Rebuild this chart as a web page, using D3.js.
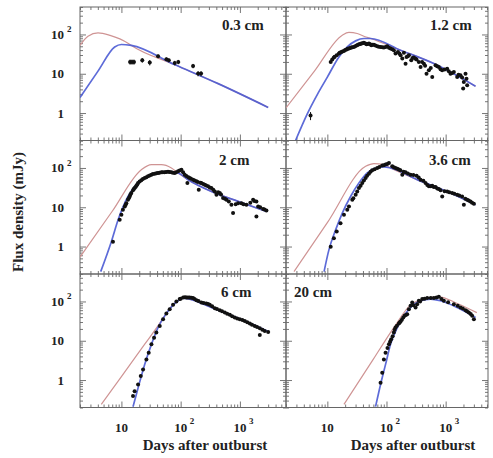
<!DOCTYPE html>
<html><head><meta charset="utf-8">
<script src="https://cdn.jsdelivr.net/npm/d3@7"></script>
<style>body{margin:0;background:#fff}svg{display:block}</style>
</head><body><svg id="c" width="493" height="458"></svg>
<script>
// ---------- data (days after outburst, flux density mJy) ----------
const panelLabels = ["0.3 cm","1.2 cm","2 cm","3.6 cm","6 cm","20 cm"];
const xTickValues = [10,100,1000];
const xTickBase = ["10","10","10"];
const xTickSup = ["","2","3"];
const yTickValues = [100,10,1];
const yTickBase = ["10","10","1"];
const yTickSup = ["2","",""];
const xTitle = "Days after outburst";
const yTitle = "Flux density (mJy)";

// observations [days, mJy, error]
const obs03 = [[14,20,3],[15.1,20,3],[16.3,20,3],[22.5,22.1,3],[30.1,19.3,3],[41.6,27.9,3],[57.4,23.4,2.5],[63.1,22.1,2.5],[79.4,18.8,2.5],[91.2,20,2.5],[162,15.8,2],[197,10.1,1.5],[221,10.1,1.5]];
const obs12 = [[5.2,0.86,0.2],[11.4,20],[12.1,23],[12.9,25.8],[13.3,27],[14.4,29.6],[15.7,32.7],[16.2,34],[17.2,36],[18,37],[19.1,38.2],[20,40],[21.2,41.3],[22,43],[23.2,43.9],[24.3,45],[25.4,46.5],[26.5,47],[28.1,48.3],[29.5,50],[31.2,52.3],[32.5,54],[34.2,56.6],[36,57],[37.4,58.9],[39.5,60],[41.5,61.2],[44,59],[46,56.6],[48,57],[50.5,58.9],[53,56],[55.2,53.3],[58,55],[61.2,54.4],[65,52],[69.8,50.4],[74,49],[79.4,48.3],[85,47],[90.4,46.5],[97,48],[103,50.4],[110,46],[117,43.9],[125,42],[133,39.7],[142,32.7],[156,36],[165,33],[173,29.6],[185,24.3],[197,34],[210,18.1],[218,26.8],[230,28],[239,29.6],[262,22.1],[275,25],[290,25.8],[310,24],[322,23],[352,20],[377,14.9],[400,20],[429,18.1],[450,16],[475,10],[520,12.2],[560,14],[593,8.3],[675,16.4],[720,15.5],[767,14.9],[820,13],[875,12.2],[960,12.8],[1062,13.5],[1130,11.5],[1208,10],[1290,10.5],[1377,11.1],[1567,8.3],[1650,9.5],[1782,9.1],[1900,8],[2028,6.2],[2167,10],[2250,7.5],[2312,5.1],[1977,4.2]];
const obs2 = [[7.2,1.33],[9.35,4.8],[10,6.4],[10.6,8.6],[11.4,10.5],[11.8,11.5],[12.1,12.7],[12.9,15.5],[13.3,17],[13.8,18.8],[14.2,21],[14.7,23],[15.7,26.9],[16.2,29],[16.7,30.8],[17.3,33],[17.9,35.3],[18.5,38],[19.1,41.3],[20.3,45],[21.7,48.4],[23,52],[24.7,55.5],[26.4,58],[28.1,61.2],[30,64],[32.1,67.6],[34,70],[36.5,71.6],[39,73],[41.5,74.5],[44,76],[47.3,77.5],[50,78],[53.8,77.5],[57,79],[61.2,80.5],[65,79],[69.8,77.5],[74,76],[79.4,74.5],[84,78],[90.4,82.2],[96,86],[103,90.6],[110,77.5],[117,67.6],[125,62],[130,41.3],[135,58],[142,55.5],[150,53],[162,50.4],[172,48],[185,45.6],[195,44],[202,27.9],[215,42],[224,41.3],[240,39],[255,37.5],[270,36],[290,34],[310,32],[330,30.8],[355,28],[377,25.3],[402,20.8],[430,24],[457,23],[480,21],[520,17.1],[560,16.5],[593,15.5],[650,14],[719,11.5],[767,7.1],[850,12],[933,12.7],[1062,12.7],[1150,12],[1288,11.5],[1500,13],[1671,15.5],[1750,14.5],[1901,14.1],[2032,10.5],[2200,10],[2466,9],[2600,8.8],[2805,8.3],[1901,5.8]];
const obs36 = [[11.4,0.99],[12.9,1.62],[14.4,2.4],[16.7,3.9],[19.1,6.4],[21.7,8.6],[23.2,10.5],[26.4,15.5],[27.5,17],[30.1,20.8],[32,25],[34.2,30.8],[36.5,35],[38.9,41.3],[41.5,48],[44.4,55.5],[47,63],[50.5,71.6],[53.8,80],[57.4,87.1],[63,93],[69.8,100],[76,106],[84.7,115],[90,118],[96.4,122],[103,126],[110,134],[125,110],[133,104],[142,100],[152,96],[162,90.8],[172,88],[185,67.6],[195,80],[210,77.5],[230,72],[255,67.6],[285,66],[322,63.7],[350,57],[377,50.4],[420,47],[457,41.3],[490,37],[520,34],[560,34],[593,35.3],[630,33],[675,32.7],[720,30],[767,29],[820,27],[875,18.8],[960,25.5],[1062,25.3],[1150,24],[1288,23],[1400,22],[1567,20.8],[1700,20],[1901,18.8],[2032,11.5],[2150,16.5],[2312,15.5],[2450,14.8],[2630,14.1],[2800,13],[3000,12.2]];
const obs6 = [[15.7,0.39],[16.7,0.52],[19.1,0.77],[21.2,1.26],[23.2,1.86],[26.4,3.35],[28.9,4.95],[32.1,8.1],[35.6,12],[38.9,16.1],[44.4,23.8],[50.5,35.3],[57.4,49.3],[65.3,63.7],[74.5,82],[84.7,100],[96.4,115],[100,118],[110,126],[118,128],[125,126],[133,126],[142,126],[152,124],[162,122],[172,116],[185,108],[200,102],[224,94.2],[245,92],[272,88.9],[290,86],[310,82],[340,76],[377,67.5],[410,64],[457,60],[500,56],[556,52.2],[610,49],[675,45.6],[740,42],[818,38.9],[900,37],[995,35.3],[1100,33.5],[1208,32],[1330,29.5],[1469,27.4],[1600,25.6],[1782,23.8],[1950,22.3],[2167,20.8],[2167,14],[2400,19],[2630,17.8],[3000,16.7]];
const obs20 = [[79.4,0.85],[84.7,1.53],[90.4,3.35],[96.4,4.95],[104,6.5],[110,8.1],[115,9.5],[120,10.9],[127,13],[133,16.1],[137,19],[142,21.6],[150,24],[162,27.4],[167,29],[173,30.8],[182,34],[192,38.9],[202,43],[212,45],[224,47.4],[239,63.7],[255,77.4],[272,94.2],[285,80],[310,70.2],[330,85.5],[352,104],[370,100],[402,115],[440,118],[488,122],[560,122],[632,122],[700,127],[767,131.5],[850,115],[933,104],[1100,95],[1377,85.5],[1600,78],[1782,70.2],[1950,66],[2167,60],[2300,56],[2466,52.2],[2650,48],[2805,43],[3000,35.3]];

// model curves [days, mJy]
const red03 = [[2,53],[2.73,90.6],[4.03,110],[6.43,95],[12.9,60],[14.7,52.5],[80.5,16.9],[429,5.6],[3000,1.39]];
const blue03 = [[2,2.5],[4,11.5],[7.7,48],[10,55.6],[14.7,52.5],[80.5,16.9],[429,5.6],[3000,1.39]];
const red12 = [[2,1.35],[6,11.5],[17.9,96],[23.2,113],[32,106],[45,86],[53.7,79],[173,39.7],[631,18.2],[3200,4.8]];
const blue12 = [[2.9,0.2],[4.58,0.955],[6.76,2.95],[10,8.2],[15.7,26.8],[21.7,48.3],[30.1,68.7],[41.7,79],[53.7,79],[173,39.7],[631,18.2],[3200,4.8]];
const red2 = [[2,0.54],[7,7.9],[21.7,90.6],[32.1,121.6],[47.3,121.6],[69.8,100],[90.4,74.5],[133,50.4],[330,25.3],[933,14.1],[2805,7.8]];
const blue2 = [[4.47,0.23],[6.76,1.33],[8.8,4.8],[12.9,18.8],[19.1,41.3],[28.1,61.2],[41.5,77.5],[61.2,80.5],[90.4,74.5],[133,50.4],[330,25.3],[933,14.1],[2805,7.8]];
const red36 = [[2.73,0.23],[10,4.06],[44.4,110],[61.2,129],[90.4,121.6],[117,100],[330,50.4],[1208,23],[3200,11.5]];
const blue36 = [[8.8,0.23],[10.6,0.81],[13.8,2.65],[17.9,7.1],[24.7,18.8],[34.2,41.3],[47.3,74.5],[65.3,100],[90.4,106],[117,100],[330,50.4],[1208,23],[3200,11.5]];
const red6 = [[4.58,0.24],[10,1.22],[25.1,8.4],[47.3,32],[53.8,43],[69.8,73],[90.4,104],[110,122],[142,115],[330,70],[1208,32],[3000,17.1]];
const blue6 = [[15.7,0.21],[19.1,0.63],[24.7,2.5],[32.1,8.1],[41.5,21.6],[53.8,43],[69.8,73],[90.4,104],[110,122],[142,115],[330,70],[1208,32],[3000,17.1]];
const red20 = [[19.1,0.24],[60,3.4],[133,21.6],[255,82],[429,115],[767,131.5],[1567,89],[3365,52]];
const blue20 = [[65.3,0.21],[79.4,0.77],[96.4,2.5],[117,8.1],[152,21.6],[197,43],[272,77.4],[377,104],[556,115],[818,104],[1567,70],[3200,38.9]];

const observations = [obs03, obs12, obs2, obs36, obs6, obs20];
const redModels = [red03, red12, red2, red36, red6, red20];
const blueModels = [blue03, blue12, blue2, blue36, blue6, blue20];

// ---------- layout ----------
const svg = d3.select("#c");
const FONT = "'Liberation Serif','Times New Roman',serif";
const colRange = [[80,286],[286,488]];
const colDomain = [[2,6000],[2,5200]];
const rowTop = [7,140.5,274];
const rowH = 133.5;
const yDomain = [0.2,500];
const labelPos = [[222,30],[430,30],[219,165],[429,165],[221,297],[294,297]];

function minorTicks(scale){
  return scale.ticks().filter(v => {
    const l = Math.log10(v);
    return Math.abs(l - Math.round(l)) > 1e-6;
  });
}

panelLabels.forEach((lab, i) => {
  const col = i % 2, row = Math.floor(i / 2);
  const x = d3.scaleLog().domain(colDomain[col]).range(colRange[col]);
  const top = rowTop[row], bot = top + rowH;
  const y = d3.scaleLog().domain(yDomain).range([bot, top]);
  const g = svg.append("g");
  const cid = "clip" + i;
  svg.append("clipPath").attr("id", cid).append("rect")
    .attr("x", colRange[col][0]).attr("y", top)
    .attr("width", colRange[col][1]-colRange[col][0]).attr("height", rowH);

  const xmin = minorTicks(x), ymin = minorTicks(y);
  const makers = [
    () => d3.axisBottom(x), () => d3.axisTop(x), () => d3.axisLeft(y), () => d3.axisRight(y)
  ];
  const transforms = [`translate(0,${bot})`, `translate(0,${top})`,
    `translate(${colRange[col][0]},0)`, `translate(${colRange[col][1]},0)`];
  makers.forEach((mk, k) => {
    const isX = k < 2;
    const gm = g.append("g").attr("transform", transforms[k])
      .call(mk().tickValues(isX ? xTickValues : yTickValues).tickSize(-6).tickFormat("").tickSizeOuter(0));
    const gn = g.append("g").attr("transform", transforms[k])
      .call(mk().tickValues(isX ? xmin : ymin).tickSize(-3).tickFormat("").tickSizeOuter(0));
    [gm, gn].forEach(s => { s.select(".domain").remove(); s.selectAll("line").attr("stroke","#777"); });
  });

  g.append("rect").attr("x", colRange[col][0]).attr("y", top)
    .attr("width", colRange[col][1]-colRange[col][0]).attr("height", rowH)
    .attr("fill","none").attr("stroke","#666").attr("stroke-width",1);

  const line = d3.line().x(d => x(d[0])).y(d => y(d[1])).curve(d3.curveMonotoneX);
  const plot = g.append("g").attr("clip-path", `url(#${cid})`);
  plot.append("path").datum(redModels[i]).attr("d", line)
    .attr("fill","none").attr("stroke","#cf9494").attr("stroke-width",1.2);
  plot.append("path").datum(blueModels[i]).attr("d", line)
    .attr("fill","none").attr("stroke","#4b5bd4").attr("stroke-width",1.7).attr("stroke-opacity",0.9);

  const obs = observations[i];
  plot.selectAll("line.err").data(obs.filter(d => d[2])).enter().append("line")
    .attr("x1", d => x(d[0])).attr("x2", d => x(d[0]))
    .attr("y1", d => y(d[1] - d[2])).attr("y2", d => y(d[1] + d[2]))
    .attr("stroke","#111").attr("stroke-width",1);
  plot.selectAll("circle").data(obs).enter().append("circle")
    .attr("cx", d => x(d[0])).attr("cy", d => y(d[1])).attr("r", 2)
    .attr("fill","#111");

  g.append("text").attr("x", labelPos[i][0]).attr("y", labelPos[i][1])
    .attr("font-family", FONT).attr("font-size", 15).attr("font-weight","bold")
    .attr("fill","#222").text(lab);

  if (col === 0) {
    yTickValues.forEach((v, k) => {
      g.append("text").attr("x", 64).attr("y", y(v) + 4.5).attr("text-anchor","end")
        .attr("font-family", FONT).attr("font-size", 13).attr("font-weight","bold")
        .attr("fill","#222").text(yTickBase[k]);
      if (yTickSup[k]) g.append("text").attr("x", 67).attr("y", y(v) - 2)
        .attr("font-family", FONT).attr("font-size", 9).attr("font-weight","bold")
        .attr("fill","#222").text(yTickSup[k]);
    });
  }
  if (row === 2) {
    xTickValues.forEach((v, k) => {
      g.append("text").attr("x", x(v)).attr("y", 432).attr("text-anchor","middle")
        .attr("font-family", FONT).attr("font-size", 13).attr("font-weight","bold")
        .attr("fill","#222").text(xTickBase[k]);
      if (xTickSup[k]) g.append("text").attr("x", x(v) + 9).attr("y", 424)
        .attr("font-family", FONT).attr("font-size", 9).attr("font-weight","bold")
        .attr("fill","#222").text(xTickSup[k]);
    });
    g.append("text").attr("x", col === 0 ? 205 : 413).attr("y", 450).attr("text-anchor","middle")
      .attr("font-family", FONT).attr("font-size", 15).attr("font-weight","bold")
      .attr("fill","#222").text(xTitle);
  }
});

svg.append("text").attr("transform","translate(23,212) rotate(-90)").attr("text-anchor","middle")
  .attr("font-family", FONT).attr("font-size", 15).attr("font-weight","bold")
  .attr("fill","#222").text(yTitle);
</script>
</body></html>
